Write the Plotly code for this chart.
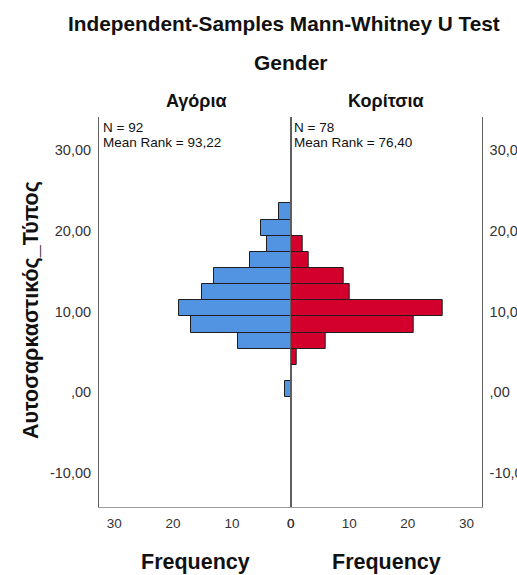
import plotly.graph_objects as go

# ---- data ----
bin_centers = [0.4, 2.4, 4.4, 6.4, 8.4, 10.4, 12.4, 14.4, 16.4, 18.4, 20.4, 22.4]
bin_width = 2.0
boys_counts = [1, 0, 0, 9, 17, 19, 15, 13, 7, 4, 5, 2]
girls_counts = [0, 0, 1, 6, 21, 26, 10, 9, 3, 2, 0, 0]
group_names = ["Αγόρια", "Κορίτσια"]
group_n = ["N = 92", "N = 78"]
group_rank = ["Mean Rank = 93,22", "Mean Rank = 76,40"]
y_tickvals = [-10, 0, 10, 20, 30]
y_ticktext = ["-10,00", ",00", "10,00", "20,00", "30,00"]
x_tickvals = [0, 10, 20, 30]
x_ticktext = ["0", "10", "20", "30"]

W, H = 517, 575
FONT = "Liberation Sans, Arial, sans-serif"
BLUE = "#5394E2"
RED = "#D3002D"

def px(x):
    return x / W

def py(y):
    return 1 - y / H

left_dom = [px(99), px(290.7)]
right_dom = [px(290.7), px(481.7)]
y_dom = [py(507), py(117)]

fig = go.Figure()
fig.add_trace(go.Bar(
    y=bin_centers, x=boys_counts, orientation="h", width=bin_width,
    marker=dict(color=BLUE, line=dict(color="#1e1e1e", width=1)),
    xaxis="x", yaxis="y", showlegend=False, hoverinfo="skip"))
fig.add_trace(go.Bar(
    y=bin_centers, x=girls_counts, orientation="h", width=bin_width,
    marker=dict(color=RED, line=dict(color="#1e1e1e", width=1)),
    xaxis="x2", yaxis="y2", showlegend=False, hoverinfo="skip"))

yr = [-14.2, 34.1]
xr = 32.6
ytickfont = dict(family=FONT, size=14.5, color="#333333")
xtickfont = dict(family=FONT, size=13.5, color="#333333")

common_y = dict(range=yr, domain=y_dom, tickvals=y_tickvals, ticktext=y_ticktext,
                showgrid=False, zeroline=False, showline=True, linecolor="#5f5f5f",
                linewidth=1, mirror=True, ticks="", tickfont=ytickfont, fixedrange=True,
                automargin=False)
common_x = dict(tickvals=x_tickvals, ticktext=x_ticktext, showgrid=False, zeroline=False,
                showline=True, linecolor="#9a9a9a", linewidth=1, ticks="",
                tickfont=xtickfont, fixedrange=True, automargin=False, ticklabelstandoff=4)

fig.update_layout(
    width=W, height=H, autosize=False,
    margin=dict(l=0, r=0, t=0, b=0, pad=0, autoexpand=False),
    paper_bgcolor="white", plot_bgcolor="white",
    bargap=0,
    xaxis=dict(common_x, domain=left_dom, range=[xr, 0], anchor="y"),
    xaxis2=dict(common_x, domain=right_dom, range=[0, xr], anchor="y2"),
    yaxis=dict(common_y, anchor="x", side="left", ticklabelstandoff=4),
    yaxis2=dict(common_y, anchor="x2", side="right", ticklabelstandoff=4),
    font=dict(family=FONT, color="#111111"),
)

ann = []
ann.append(dict(text="<b>Independent-Samples Mann-Whitney U Test</b>", x=px(284), y=py(23),
                xref="paper", yref="paper", showarrow=False, xanchor="center", yanchor="middle",
                font=dict(family=FONT, size=20.8, color="#111111")))
ann.append(dict(text="<b>Gender</b>", x=px(291), y=py(63),
                xref="paper", yref="paper", showarrow=False, xanchor="center", yanchor="middle",
                font=dict(family=FONT, size=21, color="#111111")))
for name, cx in zip(group_names, [196, 386]):
    ann.append(dict(text="<b>" + name + "</b>", x=px(cx), y=py(101),
                    xref="paper", yref="paper", showarrow=False, xanchor="center", yanchor="middle",
                    font=dict(family=FONT, size=18, color="#111111")))
for n_txt, r_txt, lx in zip(group_n, group_rank, [101, 292]):
    ann.append(dict(text=n_txt, x=px(lx), y=py(128), align="left",
                    xref="paper", yref="paper", showarrow=False, xanchor="left", yanchor="middle",
                    font=dict(family=FONT, size=13.5, color="#111111")))
    ann.append(dict(text=r_txt, x=px(lx), y=py(143), align="left",
                    xref="paper", yref="paper", showarrow=False, xanchor="left", yanchor="middle",
                    font=dict(family=FONT, size=13.5, color="#111111")))
for cx in [195, 386]:
    ann.append(dict(text="<b>Frequency</b>", x=px(cx), y=py(562),
                    xref="paper", yref="paper", showarrow=False, xanchor="center", yanchor="middle",
                    font=dict(family=FONT, size=21.5, color="#111111")))
ann.append(dict(text="<b>Αυτοσαρκαστικός_Τύπος</b>", x=px(31), y=py(310), textangle=-90,
                xref="paper", yref="paper", showarrow=False, xanchor="center", yanchor="middle",
                font=dict(family=FONT, size=21.5, color="#111111")))
fig.update_layout(annotations=ann)

fig.write_html(
    "out.html",
    config={"displayModeBar": False, "responsive": False},
    post_script="document.body.style.margin='0';document.body.style.overflow='hidden';",
)
